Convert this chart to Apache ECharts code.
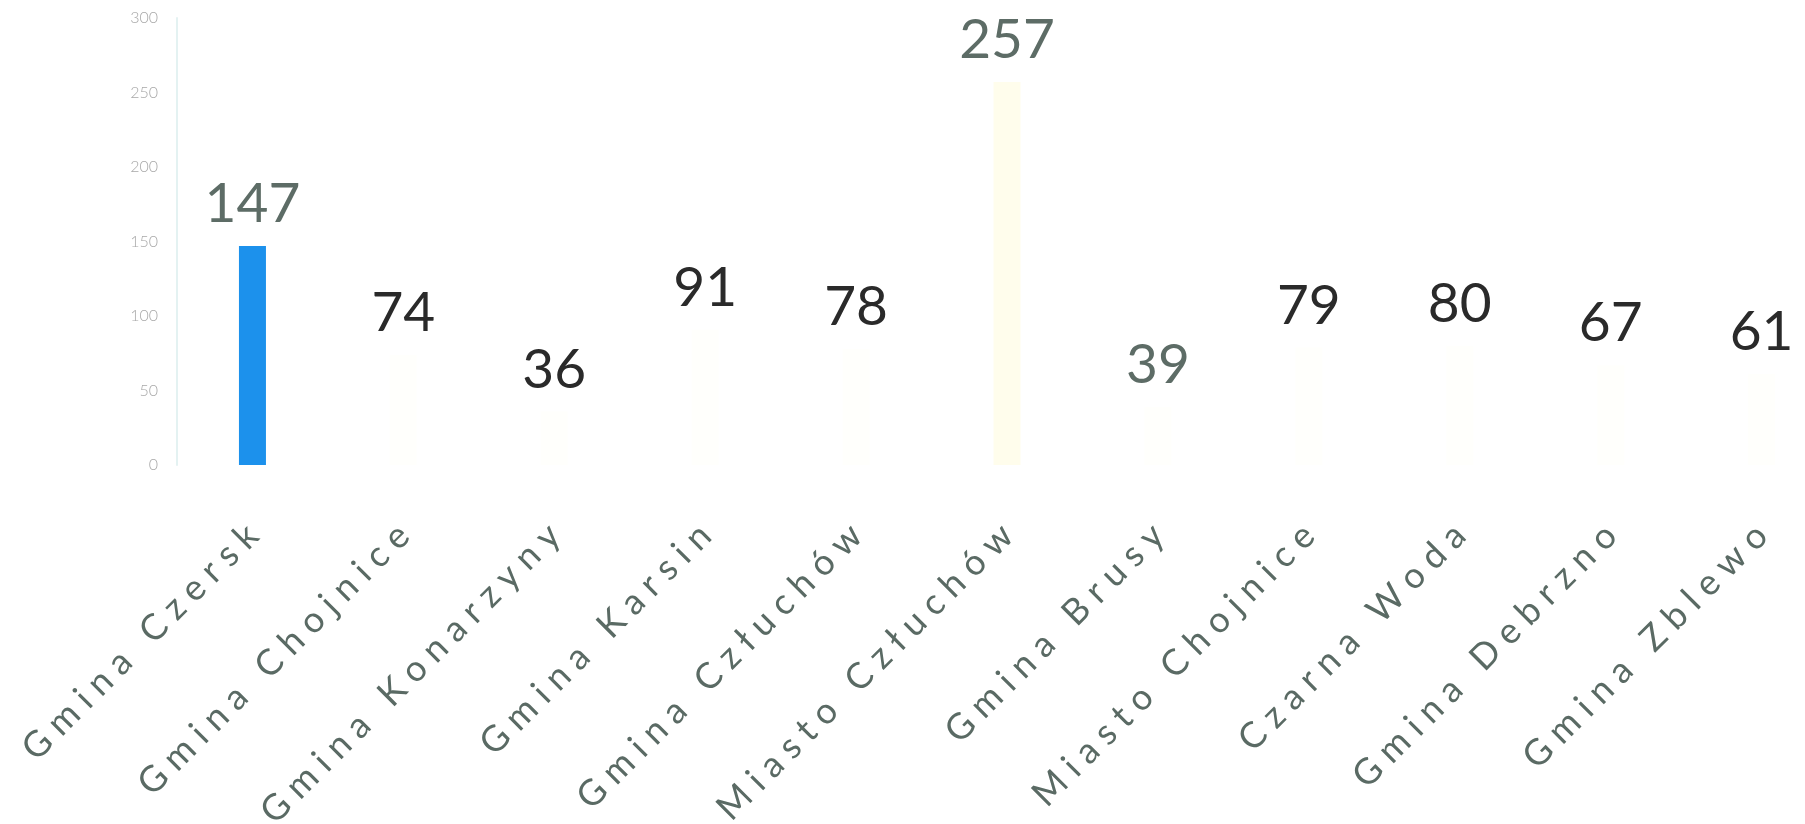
<!DOCTYPE html>
<html>
<head>
<meta charset="utf-8">
<script src="https://cdn.jsdelivr.net/npm/echarts@6/dist/echarts.min.js"></script>
<style>
html,body{margin:0;padding:0;background:#fff;}
#chart{width:1805px;height:824px;}
</style>
</head>
<body>
<div id="chart"></div>
<script>
const categories = ['Gmina Czersk','Gmina Chojnice','Gmina Konarzyny','Gmina Karsin','Gmina Człuchów','Miasto Człuchów','Gmina Brusy','Miasto Chojnice','Czarna Woda','Gmina Debrzno','Gmina Zblewo'];
const values = [147, 74, 36, 91, 78, 257, 39, 79, 80, 67, 61];
const yTicks = [0, 50, 100, 150, 200, 250, 300];

const faint = 'rgba(255,255,230,0.12)';
const barColors = ['#1c91ec', faint, faint, faint, faint, 'rgba(255,250,200,0.35)', faint, faint, faint, faint, faint];
const labelColors = ['#5d6c66','#2a2a2a','#2a2a2a','#2a2a2a','#2a2a2a','#5d6c66','#5d6c66','#2a2a2a','#2a2a2a','#2a2a2a','#2a2a2a'];

const chart = echarts.init(document.getElementById('chart'));
chart.setOption({
  animation: false,
  backgroundColor: '#ffffff',
  grid: { left: 177, width: 1660, top: 18, bottom: 359, containLabel: false, outerBoundsMode: 'none' },
  xAxis: {
    type: 'category',
    data: categories,
    axisLine: { show: false },
    axisTick: { show: false },
    axisLabel: {
      interval: 0,
      rotate: 45,
      margin: 65,
      fontFamily: 'Lato',
      fontSize: 36,
      color: '#5a6a64',
      formatter: v => v.split('').join('\u2009\u2009')
    }
  },
  yAxis: {
    type: 'value',
    min: yTicks[0],
    max: yTicks[yTicks.length - 1],
    interval: 50,
    axisLine: { show: true, lineStyle: { color: '#e4f2f2', width: 2 } },
    axisTick: { show: false },
    splitLine: { show: false },
    axisLabel: {
      margin: 19,
      fontFamily: 'Lato',
      fontWeight: 300,
      fontSize: 16,
      color: '#a8a8a8'
    }
  },
  series: [{
    type: 'bar',
    barWidth: 27,
    data: values.map((v, i) => ({
      value: v,
      itemStyle: { color: barColors[i] },
      label: { color: labelColors[i] }
    })),
    label: {
      show: true,
      position: 'top',
      distance: 14,
      fontFamily: 'Lato',
      fontSize: 55
    }
  }]
});
</script>
</body>
</html>
